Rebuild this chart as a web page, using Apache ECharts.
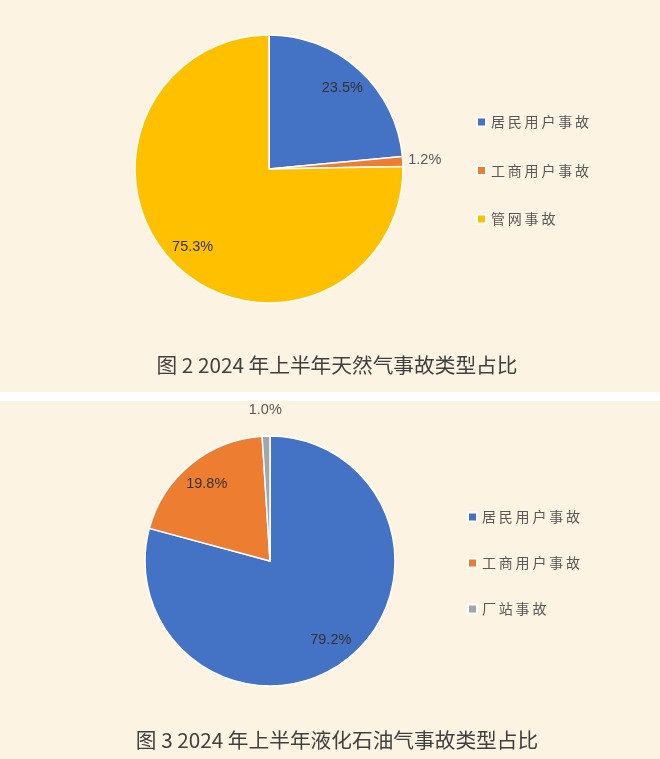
<!DOCTYPE html>
<html>
<head>
<meta charset="utf-8">
<script src="https://cdn.jsdelivr.net/npm/echarts@6/dist/echarts.min.js"></script>
<style>
html,body{margin:0;padding:0;background:#fff;}
#c{width:660px;height:759px;}
</style>
</head>
<body>
<div id="c"></div>
<script>
// ---- data ----
var gasTitle = '图 2 2024 年上半年天然气事故类型占比';
var gasNames = ['居民用户事故', '工商用户事故', '管网事故'];
var gasValues = [23.5, 1.2, 75.3];
var gasColors = ['#4472C4', '#ED7D31', '#FFC000'];

var lpgTitle = '图 3 2024 年上半年液化石油气事故类型占比';
var lpgNames = ['居民用户事故', '工商用户事故', '厂站事故'];
var lpgValues = [79.2, 19.8, 1.0];
var lpgColors = ['#4472C4', '#ED7D31', '#A5A5A5'];

var SMALL = 5; // slices below this share get their label outside the pie

var cream = '#fdf3e2';
var labelFont = "'Liberation Sans Narrow', 'Liberation Sans', Arial, sans-serif";
var cjkFont = "'Noto Sans CJK SC', sans-serif";

function mainData(names, values, colors) {
  return names.map(function (n, i) {
    return { name: n, value: values[i], itemStyle: { color: colors[i] } };
  });
}
function ghostData(names, values, wantSmall) {
  return names.map(function (n, i) {
    var isSmall = values[i] < SMALL;
    return { name: n, value: values[i], label: { show: isSmall === wantSmall } };
  });
}
function pct(p) { return p.value.toFixed(1) + '%'; }
function spaced(name) { return name.split('').join('\u2009'); }

function mainSeries(names, values, colors, center, r) {
  return {
    type: 'pie', center: center, radius: [0, r], startAngle: 90, clockwise: true,
    silent: true, label: { show: false }, labelLine: { show: false },
    itemStyle: { borderColor: '#ffffff', borderWidth: 1.5 },
    emphasis: { disabled: true },
    data: mainData(names, values, colors)
  };
}
function ghostSeries(names, values, center, radius, wantSmall, color) {
  return {
    type: 'pie', center: center, radius: radius, startAngle: 90, clockwise: true,
    silent: true, legendHoverLink: false, z: 5,
    itemStyle: { color: 'rgba(0,0,0,0)', borderWidth: 0 },
    emphasis: { disabled: true },
    labelLine: { show: false },
    label: {
      position: 'inside', formatter: pct, color: color,
      fontFamily: labelFont, fontSize: 14.5
    },
    data: ghostData(names, values, wantSmall)
  };
}

var chart = echarts.init(document.getElementById('c'), null, { renderer: 'canvas' });
chart.setOption({
  backgroundColor: '#ffffff',
  animation: false,
  graphic: [
    { type: 'rect', silent: true, z: -10, shape: { x: 0, y: 0, width: 660, height: 392 }, style: { fill: cream } },
    { type: 'rect', silent: true, z: -10, shape: { x: 0, y: 401, width: 660, height: 358 }, style: { fill: cream } }
  ],
  title: [
    { text: gasTitle, left: 337, top: 353, textAlign: 'center', padding: 0,
      textStyle: { fontFamily: cjkFont, fontSize: 20.7, fontWeight: 'normal', color: '#404040', lineHeight: 24 } },
    { text: lpgTitle, left: 337, top: 728, textAlign: 'center', padding: 0,
      textStyle: { fontFamily: cjkFont, fontSize: 20.7, fontWeight: 'normal', color: '#404040', lineHeight: 24 } }
  ],
  legend: [
    { data: gasNames, orient: 'vertical', left: 476, top: 114, padding: 0, itemGap: 32.5,
      icon: 'rect', itemWidth: 9, itemHeight: 9, selectedMode: false,
      formatter: spaced,
      textStyle: { fontFamily: cjkFont, fontSize: 14, color: '#595959', lineHeight: 16 } },
    { data: lpgNames, orient: 'vertical', left: 467, top: 509, padding: 0, itemGap: 30,
      icon: 'rect', itemWidth: 9, itemHeight: 9, selectedMode: false,
      formatter: spaced,
      textStyle: { fontFamily: cjkFont, fontSize: 14, color: '#595959', lineHeight: 16 } }
  ],
  series: [
    mainSeries(gasNames, gasValues, gasColors, [269, 169], 134),
    mainSeries(lpgNames, lpgValues, lpgColors, [270, 561], 125),
    ghostSeries(gasNames, gasValues, [269, 169], [78, 134], false, '#333333'),
    ghostSeries(gasNames, gasValues, [269, 169], [145, 161], true, '#595959'),
    ghostSeries(lpgNames, lpgValues, [270, 561], [69, 125], false, '#333333'),
    ghostSeries(lpgNames, lpgValues, [270, 561], [140, 156], true, '#595959')
  ]
});
</script>
</body>
</html>
